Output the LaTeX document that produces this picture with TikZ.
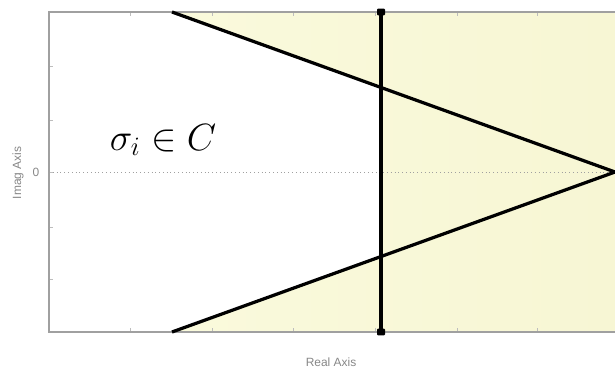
\documentclass[tikz,border=0pt]{standalone}
\usepackage{fix-cm}
\usepackage{fontspec}
\newfontfamily\axisfont{Liberation Sans}
\usetikzlibrary{positioning,calc}
\definecolor{shade}{RGB}{250,250,220}
\definecolor{shadedeep}{RGB}{247,246,212}
\definecolor{axisgray}{RGB}{160,160,160}
\definecolor{labelgray}{RGB}{135,135,135}

\begin{document}
\begin{tikzpicture}[
    x=0.025cm, y=-0.025cm,
    axis/.style={draw=axisgray, line width=1pt},
    tick/.style={draw=axisgray!70, line width=0.6pt},
    locus/.style={draw=black, line width=2.3pt},
    marker/.style={fill=black, draw=none, minimum width=0.2cm, minimum height=0.17cm,
        inner sep=0pt, rounded corners=0.8pt},
    lbl/.style={text=labelgray, font=\axisfont\fontsize{8.5}{10}\selectfont, inner sep=0pt}
]
\useasboundingbox (0,0) rectangle (615,368);

% corners of the axes box
\coordinate (tl) at (49,12);
\coordinate (tr) at (615,12);
\coordinate (bl) at (49,332);
\coordinate (br) at (615,332);

% asymptote cone and its crossing with the vertical line
\coordinate (up) at (172,12);
\coordinate (lo) at (172,332);
\coordinate (vtx) at (615,172);
\coordinate (cu) at (381,87.5);
\coordinate (cl) at (381,256.5);

% shaded region
\fill[left color=shade, right color=shadedeep] (up) -- (tr) -- (br) -- (lo) -- (cl) -- (cu) -- cycle;

% zero line
\draw[axisgray, line width=0.7pt, dotted] (49,172) -- (vtx);

% ticks
\foreach \y in {66,120,172,227,279} {
    \draw[tick] (49,\y) -- ++(4,0);
}
\foreach \x in {130,212,293,375,457,537} {
    \draw[tick] (\x,12) -- ++(0,4);
    \draw[tick] (\x,332) -- ++(0,-4);
}

% axes
\draw[axis] (tr) -- (tl) -- (bl) -- (br);

% locus
\draw[locus] (up) -- (vtx) -- (lo);
\node[marker] (mtop) at (381,12) {};
\node[marker] (mbot) at (381,332) {};
\draw[locus] (mtop.center) -- (mbot.center);

% labels
\node[font=\fontsize{27}{29}\selectfont, anchor=base, inner sep=0pt] (sigma) at (163,150) {$\sigma_i \in C$};
\node[lbl] (zero) at (36,172) {0};
\node[lbl, rotate=90] (ylab) at (18,173) {Imag Axis};
\node[lbl] (xlab) at (331,362) {Real Axis};

\end{tikzpicture}
\end{document}
